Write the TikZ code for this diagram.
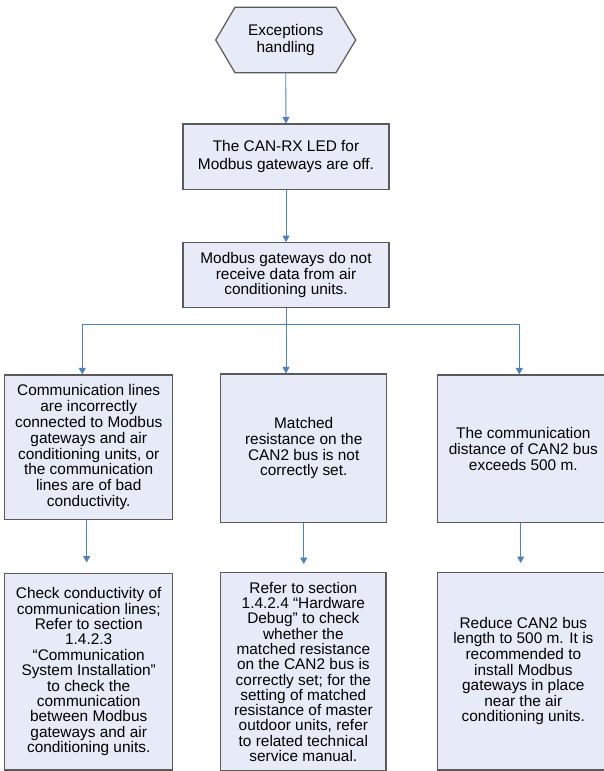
\documentclass[tikz,border=0pt]{standalone}
\usepackage{fontspec}
\setmainfont{Liberation Sans}
\usetikzlibrary{arrows.meta}
\definecolor{boxfill}{RGB}{231,235,247}
\definecolor{boxline}{RGB}{90,90,90}
\definecolor{arrblue}{RGB}{79,129,189}
\begin{document}
\begin{tikzpicture}[x=1pt,y=-1pt,
  box/.style={draw=boxline, line width=1.2pt, fill=boxfill, inner sep=0pt, align=center,
    font=\fontsize{15.4}{15.8}\selectfont},
  conn/.style={draw=arrblue, line width=0.9pt},
  arr/.style={conn, -{Triangle[width=7pt,length=6.5pt]}}
]
\useasboundingbox (0,0) rectangle (604,771);
\fill[white] (0,0) rectangle (604,771);
% hexagon
\filldraw[draw=boxline, line width=1.2pt, fill=boxfill]
  (235,7.3) -- (336,7.3) -- (355.7,40) -- (336,72.7) -- (235,72.7) -- (215.7,40) -- cycle;
\node[align=center, inner sep=0pt, minimum height=65.4pt, font=\fontsize{15.4}{17.7}\selectfont]
  (h) at (285.7,40) {Exceptions\\handling};
% boxes
\node[box, minimum width=206pt, minimum height=65.3pt, font=\fontsize{15.4}{17.4}\selectfont]
  (a1) at (286,156.7) {The CAN-RX LED for\\Modbus gateways are off.};
\node[box, minimum width=206pt, minimum height=65pt]
  (a2) at (286,275.2) {Modbus gateways do not\\receive data from air\\conditioning units.};
\node[box, minimum width=168pt, minimum height=144.3pt]
  (c1) at (88.7,447.2) {Communication lines\\are incorrectly\\connected to Modbus\\gateways and air\\conditioning units, or\\the communication\\lines are of bad\\conductivity.};
\node[box, minimum width=166pt, minimum height=148.3pt]
  (c2) at (303.7,448.2) {Matched\\resistance on the\\CAN2 bus is not\\correctly set.};
\node[box, minimum width=171.3pt, minimum height=147.3pt]
  (c3) at (523.35,448.7) {The communication\\distance of CAN2 bus\\exceeds 500 m.};
\node[box, minimum width=168pt, minimum height=196.7pt, font=\fontsize{15.4}{15.4}\selectfont]
  (d1) at (88.7,671.7) {Check conductivity of\\communication lines;\\Refer to section\\1.4.2.3\\“Communication\\System Installation”\\to check the\\communication\\between Modbus\\gateways and air\\conditioning units.};
\node[box, minimum width=165.3pt, minimum height=198.3pt, font=\fontsize{15.4}{15.3}\selectfont]
  (d2) at (303.35,671.9) {Refer to section\\1.4.2.4 “Hardware\\Debug” to check\\whether the\\matched resistance\\on the CAN2 bus is\\correctly set; for the\\setting of matched\\resistance of master\\outdoor units, refer\\to related technical\\service manual.};
\node[box, minimum width=171.3pt, minimum height=197.7pt, font=\fontsize{15.4}{15.6}\selectfont]
  (d3) at (523.35,671.2) {Reduce CAN2 bus\\length to 500 m. It is\\recommended to\\install Modbus\\gateways in place\\near the air\\conditioning units.};
% connectors
\draw[arr] (h.south) -- (a1.north);
\draw[arr] (a1.south) -- (a2.north);
\coordinate (jl) at (82.3,324.3);
\coordinate (jm) at (286,324.3);
\coordinate (jr) at (519.3,324.3);
\draw[conn] (a2.south) -- (jm);
\draw[conn] (jl) -- (jr);
\draw[arr] (jl) -- (jl |- c1.north);
\draw[arr] (jm) -- (jm |- c2.north);
\draw[arr] (jr) -- (jr |- c3.north);
\coordinate (t1) at (86.7,562.5);
\coordinate (t2) at (303.7,564);
\coordinate (t3) at (520.7,563);
\draw[arr] (c1.south -| t1) -- (t1);
\draw[arr] (c2.south -| t2) -- (t2);
\draw[arr] (c3.south -| t3) -- (t3);
\end{tikzpicture}
\end{document}
